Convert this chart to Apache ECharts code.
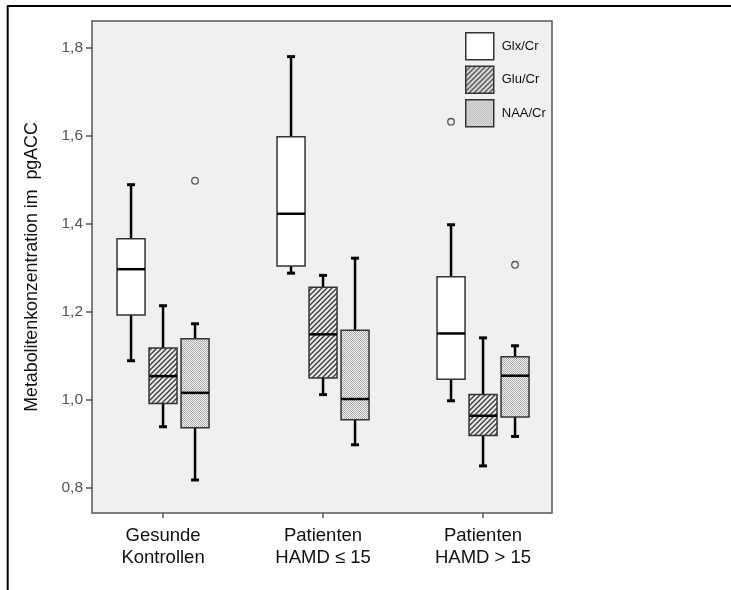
<!DOCTYPE html>
<html>
<head>
<meta charset="utf-8">
<script src="https://cdn.jsdelivr.net/npm/echarts@6/dist/echarts.min.js"></script>
<style>
html,body{margin:0;padding:0;background:#fff;}
#main{width:731px;height:590px;}
</style>
</head>
<body>
<div id="main"></div>
<script>
// ---- data ----
const categories = ['Gesunde\nKontrollen', 'Patienten\nHAMD ≤ 15', 'Patienten\nHAMD > 15'];
const seriesNames = ['Glx/Cr', 'Glu/Cr', 'NAA/Cr'];
// [whisker low, Q1, median, Q3, whisker high]
const glx = [
  [1.089, 1.193, 1.297, 1.366, 1.489],
  [1.288, 1.304, 1.423, 1.598, 1.780],
  [0.998, 1.047, 1.151, 1.280, 1.398]
];
const glu = [
  [0.939, 0.992, 1.054, 1.118, 1.214],
  [1.012, 1.050, 1.149, 1.256, 1.283],
  [0.850, 0.919, 0.964, 1.012, 1.141]
];
const naa = [
  [0.818, 0.937, 1.016, 1.139, 1.173],
  [0.898, 0.955, 1.002, 1.158, 1.322],
  [0.917, 0.961, 1.055, 1.098, 1.123]
];
// outliers: [category index, value]
const glxOutliers = [[2, 1.632]];
const gluOutliers = [];
const naaOutliers = [[0, 1.498], [2, 1.307]];
const yTicks = [0.8, 1.0, 1.2, 1.4, 1.6, 1.8];

// ---- patterns ----
function hatchPattern() {
  const c = document.createElement('canvas');
  c.width = 5; c.height = 5;
  const g = c.getContext('2d');
  g.fillStyle = '#e6e6e6'; g.fillRect(0, 0, 5, 5);
  g.strokeStyle = '#3a3a3a'; g.lineWidth = 1.3;
  g.beginPath();
  g.moveTo(-1, 6); g.lineTo(6, -1);
  g.moveTo(-1, 1); g.lineTo(1, -1);
  g.moveTo(4, 6); g.lineTo(6, 4);
  g.stroke();
  return { image: c, repeat: 'repeat' };
}
function dotPattern() {
  const c = document.createElement('canvas');
  c.width = 2; c.height = 2;
  const g = c.getContext('2d');
  g.fillStyle = '#f4f4f4'; g.fillRect(0, 0, 2, 2);
  g.fillStyle = '#a8a8a8';
  g.fillRect(0, 0, 1, 1); g.fillRect(1, 1, 1, 1);
  return { image: c, repeat: 'repeat' };
}
const fills = ['#ffffff', hatchPattern(), dotPattern()];
const offsets = [-32, 0, 32];
const BOX_W = 28, CAP_W = 8;
const FONT = 'Liberation Sans, Arial, sans-serif';

function boxRender(offset, fill) {
  return function (params, api) {
    const xv = api.value(0);
    const p = (v) => api.coord([xv, v]);
    const x = p(api.value(3))[0] + offset;
    const yLo = p(api.value(1))[1];
    const yQ1 = p(api.value(2))[1];
    const yMed = p(api.value(3))[1];
    const yQ3 = p(api.value(4))[1];
    const yHi = p(api.value(5))[1];
    const blk = { stroke: '#000', lineWidth: 2.5 };
    return {
      type: 'group',
      children: [
        { type: 'line', shape: { x1: x, y1: yHi, x2: x, y2: yQ3 }, style: blk },
        { type: 'line', shape: { x1: x, y1: yQ1, x2: x, y2: yLo }, style: blk },
        { type: 'line', shape: { x1: x - CAP_W / 2, y1: yHi, x2: x + CAP_W / 2, y2: yHi }, style: { stroke: '#000', lineWidth: 3 } },
        { type: 'line', shape: { x1: x - CAP_W / 2, y1: yLo, x2: x + CAP_W / 2, y2: yLo }, style: { stroke: '#000', lineWidth: 3 } },
        { type: 'rect', shape: { x: x - BOX_W / 2, y: yQ3, width: BOX_W, height: yQ1 - yQ3 }, style: { fill: fill, stroke: '#333', lineWidth: 1.5 } },
        { type: 'line', shape: { x1: x - BOX_W / 2, y1: yMed, x2: x + BOX_W / 2, y2: yMed }, style: { stroke: '#000', lineWidth: 2.5 } }
      ]
    };
  };
}
function outRender(offset) {
  return function (params, api) {
    const c = api.coord([api.value(0), api.value(1)]);
    return { type: 'circle', shape: { cx: c[0] + offset, cy: c[1], r: 3.3 }, style: { fill: 'none', stroke: '#555', lineWidth: 1.3 } };
  };
}

const boxData = [glx, glu, naa];
const outData = [glxOutliers, gluOutliers, naaOutliers];
const series = [];
seriesNames.forEach((name, k) => {
  series.push({
    name: name, type: 'custom',
    itemStyle: { color: fills[k], borderColor: '#333', borderWidth: 1.5 },
    renderItem: boxRender(offsets[k], fills[k]),
    encode: { x: 0, y: [1, 2, 3, 4, 5] },
    data: boxData[k].map((d, i) => [i + 1].concat(d)),
    z: 2
  });
  series.push({
    name: name + ' Ausreißer', type: 'custom',
    renderItem: outRender(offsets[k]),
    encode: { x: 0, y: 1 },
    data: outData[k].map(d => [d[0] + 1, d[1]]),
    z: 3
  });
});

const chart = echarts.init(document.getElementById('main'), null, { renderer: 'canvas' });
chart.setOption({
  animation: false,
  backgroundColor: '#fff',
  grid: {
    left: 92, right: 179, top: 21, bottom: 77,
    show: true, backgroundColor: '#f0f0f0', borderColor: '#555', borderWidth: 1.5
  },
  legend: {
    orient: 'vertical', left: 465, top: 32, padding: 0,
    itemWidth: 28, itemHeight: 27, itemGap: 5,
    icon: 'rect',
    data: seriesNames.map((n, k) => ({ name: n, itemStyle: { color: fills[k], borderColor: '#333', borderWidth: 1.5 } })),
    textStyle: { fontFamily: FONT, fontSize: 13, color: '#111', padding: [0, 0, 0, 3] },
    selectedMode: false
  },
  xAxis: {
    type: 'value', min: 0.556, max: 3.431,
    splitLine: { show: false },
    axisLine: { show: false },
    axisTick: { show: true, customValues: [1, 2, 3], length: 5, lineStyle: { color: '#555', width: 1.5 } },
    axisLabel: {
      customValues: [1, 2, 3],
      formatter: v => categories[Math.round(v) - 1],
      fontFamily: FONT, fontSize: 18.5, color: '#111',
      lineHeight: 22, margin: 12
    }
  },
  yAxis: {
    type: 'value', min: 0.743, max: 1.861,
    name: 'Metabolitenkonzentration im  pgACC',
    nameLocation: 'middle', nameGap: 51, nameRotate: 90,
    nameTextStyle: { fontFamily: FONT, fontSize: 17.8, color: '#111' },
    splitLine: { show: false },
    axisLine: { show: false },
    axisTick: { show: true, customValues: yTicks, length: 6, lineStyle: { color: '#555', width: 1.5 } },
    axisLabel: {
      customValues: yTicks,
      formatter: v => v.toFixed(1).replace('.', ','),
      fontFamily: FONT, fontSize: 15.5, color: '#555', margin: 9
    }
  },
  graphic: [
    { type: 'line', shape: { x1: 7.7, y1: 6, x2: 7.7, y2: 590 }, style: { stroke: '#000', lineWidth: 2 }, silent: true },
    { type: 'line', shape: { x1: 7, y1: 6, x2: 731, y2: 6 }, style: { stroke: '#000', lineWidth: 2 }, silent: true }
  ],
  series: series
});
</script>
</body>
</html>
